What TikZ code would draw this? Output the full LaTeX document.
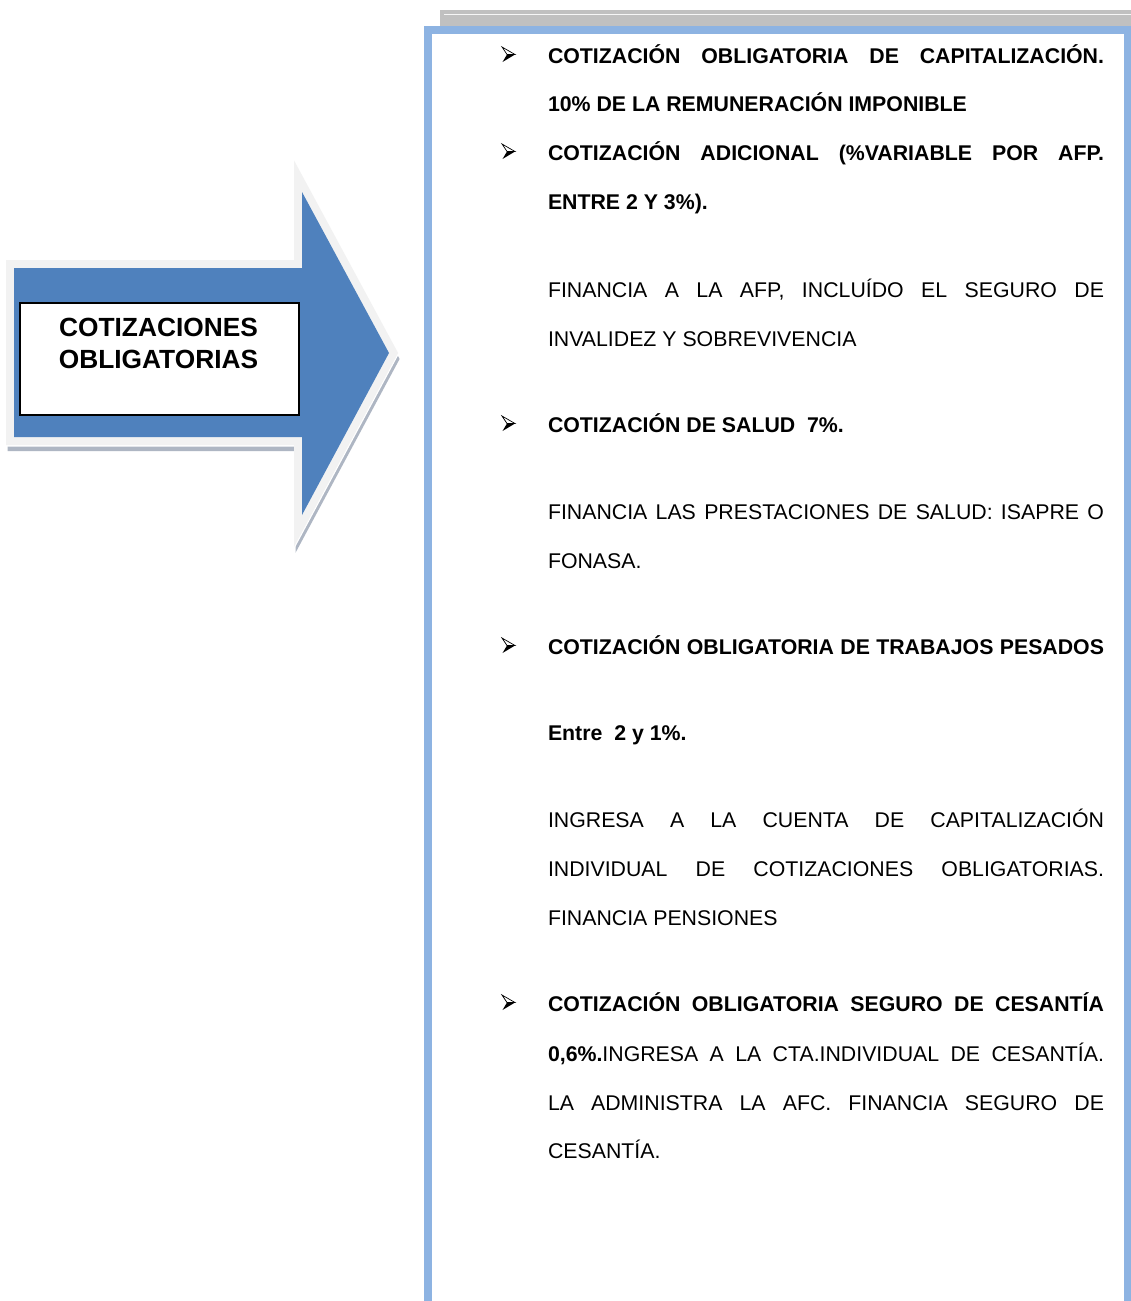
\documentclass[tikz,border=0pt]{standalone}
\usepackage{fontspec}
\setmainfont{Liberation Sans}
\definecolor{arrowblue}{HTML}{4F81BD}
\definecolor{rimgray}{HTML}{F2F2F2}
\definecolor{shadowgray}{HTML}{AEB6C3}
\definecolor{frameblue}{HTML}{8DB3E2}
\definecolor{bargray}{HTML}{C0C0C0}
\newcommand\jline[1]{\hbox to 556pt{\spaceskip=.278em plus 1fil minus .1em\relax #1}}
\begin{document}
\begin{tikzpicture}[x=1pt,y=-1pt,
  txt/.style={inner sep=0pt, outer sep=0pt, anchor=base west, font=\fontsize{21.3}{25}\selectfont},
  ttl/.style={inner sep=0pt, outer sep=0pt, anchor=base, font=\fontsize{26.3}{32}\selectfont\bfseries},
  bulletmark/.pic={
    \fill[black] (-1.5,0) -- (6.5,0) -- (-6,7.5) -- cycle;
    \draw[line width=0.7, fill=white, line join=miter] (-6.5,-7.5) -- (6.5,0) -- (-1.5,0) -- cycle;
  }]
\useasboundingbox (0,0) rectangle (1131,1301);
\fill[white] (0,0) rectangle (1131,1301);

% ---------- left arrow ----------
\draw[shadowgray, line width=16, line join=miter, shift={(1.5,6)}]
  (14,268) -- (302,268) -- (302,192) -- (389,353) -- (302,515) -- (302,437) -- (14,437) -- cycle;
\draw[white, line width=16, line join=miter, shift={(0.5,1.5)}]
  (14,268) -- (302,268) -- (302,192) -- (389,353) -- (302,515) -- (302,437) -- (14,437) -- cycle;
\draw[rimgray, line width=16, line join=miter]
  (14,268) -- (302,268) -- (302,192) -- (389,353) -- (302,515) -- (302,437) -- (14,437) -- cycle;
\fill[arrowblue]
  (14,268) -- (302,268) -- (302,192) -- (389,353) -- (302,515) -- (302,437) -- (14,437) -- cycle;
\node[draw=black, line width=1.5, fill=white, minimum width=279, minimum height=112,
      anchor=north west, inner sep=0pt] (box) at (19,302) {};
\node[ttl] (t1) at (158.5,336.4) {COTIZACIONES};
\node[ttl] (t2) at (158.5,368.4) {OBLIGATORIAS};

% ---------- right panel ----------
\fill[bargray] (440,10) rectangle (1135,26);
\draw[white!85!bargray, line width=1] (444,14.5) -- (1135,14.5);
\draw[frameblue, line width=8, fill=white] (428,30) rectangle (1128,1340);

% bullets
\pic at (508.5,54.5) {bulletmark};
\pic at (508.5,151.5) {bulletmark};
\pic at (508.5,423.5) {bulletmark};
\pic at (508.5,645.5) {bulletmark};
\pic at (508.5,1002.5) {bulletmark};

% text lines
\node[txt] (l1) at (548,63.6) {\jline{\bfseries COTIZACIÓN OBLIGATORIA DE CAPITALIZACIÓN.}};
\node[txt] (l2) at (548,111.6) {\bfseries 10\% DE LA REMUNERACIÓN IMPONIBLE};
\node[txt] (l3) at (548,160.6) {\jline{\bfseries COTIZACIÓN ADICIONAL (\%VARIABLE POR AFP.}};
\node[txt] (l4) at (548,209.6) {\bfseries ENTRE 2 Y 3\%).};
\node[txt] (l5) at (548,297.6) {\jline{FINANCIA A LA AFP, INCLUÍDO EL SEGURO DE}};
\node[txt] (l6) at (548,346.6) {INVALIDEZ Y SOBREVIVENCIA};
\node[txt] (l7) at (548,432.6) {\bfseries COTIZACIÓN DE SALUD\ \ 7\%.};
\node[txt] (l8) at (548,519.6) {\jline{FINANCIA LAS PRESTACIONES DE SALUD: ISAPRE O}};
\node[txt] (l9) at (548,568.6) {FONASA.};
\node[txt] (l10) at (548,654.6) {\jline{\bfseries COTIZACIÓN OBLIGATORIA DE TRABAJOS PESADOS}};
\node[txt] (l11) at (548,740.6) {\bfseries Entre\ \ 2 y 1\%.};
\node[txt] (l12) at (548,827.6) {\jline{INGRESA A LA CUENTA DE CAPITALIZACIÓN}};
\node[txt] (l13) at (548,876.6) {\jline{INDIVIDUAL DE COTIZACIONES OBLIGATORIAS.}};
\node[txt] (l14) at (548,925.6) {FINANCIA PENSIONES};
\node[txt] (l15) at (548,1011.6) {\jline{\bfseries COTIZACIÓN OBLIGATORIA SEGURO DE CESANTÍA}};
\node[txt] (l16) at (548,1061.6) {\jline{\textbf{0,6\%.}INGRESA A LA CTA.INDIVIDUAL DE CESANTÍA.}};
\node[txt] (l17) at (548,1110.6) {\jline{LA ADMINISTRA LA AFC. FINANCIA SEGURO DE}};
\node[txt] (l18) at (548,1158.6) {CESANTÍA.};
\end{tikzpicture}
\end{document}
